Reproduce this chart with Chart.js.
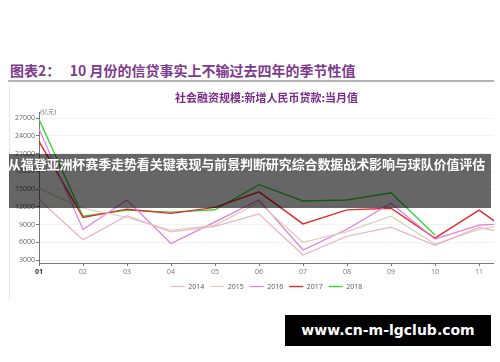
<!DOCTYPE html>
<html><head><meta charset="utf-8">
<script src="https://cdn.jsdelivr.net/npm/chart.js@4.4.1/dist/chart.umd.min.js"></script>
<style>
html,body{margin:0;padding:0;width:500px;height:362px;overflow:hidden;background:#fff;}
#title{position:absolute;left:10px;top:60px;font:bold 14px "Noto Sans CJK SC";color:#7d3b8c;white-space:pre;line-height:20px;}
#rule{position:absolute;left:8px;top:80px;width:486px;height:2px;background:#b4b4b4;}
#frame{position:absolute;left:9px;top:86px;width:1px;height:214px;background:#e8e8e8;}
#wrap{position:absolute;left:10px;top:88px;width:484px;height:212px;overflow:hidden;}
#band{position:absolute;left:9px;top:154px;width:482px;height:54px;background:rgba(0,0,0,0.6);}
#bandText{position:absolute;left:0;top:154px;width:493px;height:54px;line-height:54px;text-align:center;color:#fff;font:bold 13px "Noto Sans CJK SC";white-space:nowrap;letter-spacing:-0.1px;}
#wm{position:absolute;left:285px;top:315px;width:206px;height:31px;background:#000;color:#fff;font:bold 14px "DejaVu Sans";text-align:center;line-height:31px;}
</style>
</head><body>
<div id="title">图表2：   10 月份的信贷事实上不输过去四年的季节性值</div>
<div id="rule"></div>
<div id="frame"></div>
<div id="wrap"><canvas id="c" width="542" height="212"></canvas></div>
<div id="band"></div>
<div id="bandText">从福登亚洲杯赛季走势看关键表现与前景判断研究综合数据战术影响与球队价值评估</div>
<div id="wm">www.cn-m-lgclub.com</div>
<script>
const months = ['01','02','03','04','05','06','07','08','09','10','11','12'];
const yTicks = [3000,6000,9000,12000,15000,18000,21000,24000,27000];
const s2014 = [13200, 6445, 10500, 7747, 8708, 10800, 3852, 7025, 8572, 5483, 8527, 6970];
const s2015 = [15080, 11770, 10200, 8020, 8900, 12700, 6000, 7800, 10400, 5700, 8180, 9500];
const s2016 = [25180, 8180, 13150, 5800, 9450, 13150, 4700, 8200, 12600, 6530, 8900, 9300];
const s2017 = [23080, 10200, 11600, 10900, 11900, 14530, 9120, 11490, 11770, 6700, 11440, 6200];
const s2018 = [26800, 10400, 11440, 11100, 11500, 15740, 12980, 13150, 14370, 7250, null, null];

function ds(label, data, color, w){
  return {label, data, borderColor: color, backgroundColor: color, borderWidth: w,
          pointRadius: 0, tension: 0, fill: false, spanGaps: false};
}
const unitPlugin = {
  id: 'unit',
  afterDraw(chart){
    const {ctx, chartArea} = chart;
    ctx.save();
    ctx.font = '6px "DejaVu Sans"';
    ctx.fillStyle = '#666';
    ctx.textBaseline = 'bottom';
    ctx.fillText('(亿元)', chartArea.left + 1, chartArea.top + 3);
    ctx.restore();
  }
};
new Chart(document.getElementById('c'), {
  type: 'line',
  data: {
    labels: months,
    datasets: [
      ds('2014', s2014, '#ebb0c2', 1.2),
      ds('2015', s2015, '#dccfbb', 1.2),
      ds('2016', s2016, '#e57ad9', 1.2),
      ds('2017', s2017, '#e32a2a', 1.4),
      ds('2018', s2018, '#35d835', 1.4)
    ]
  },
  options: {
    responsive: false,
    animation: false,
    layout: {padding: {left: 0, right: 29, top: 0, bottom: 0}},
    plugins: {
      title: {display: true, text: '社会融资规模:新增人民币贷款:当月值', color: '#7a2a88',
              font: {family: 'Noto Sans CJK SC', size: 11, weight: 'bold'}, padding: {top: 3, bottom: 8}},
      legend: {position: 'bottom',
               labels: {usePointStyle: true, pointStyle: 'line', pointStyleWidth: 14, boxHeight: 7,
                        font: {size: 7, family: 'Open Sans'}, color: '#555', padding: 6}},
      tooltip: {enabled: false}
    },
    scales: {
      x: {
        offset: false,
        grid: {drawOnChartArea: false, tickLength: 3, tickColor: '#777'},
        border: {color: '#777'},
        ticks: {autoSkip: false, maxRotation: 0, padding: 2,
                color: (c) => c.index === 0 ? '#333' : '#777',
                font: (c) => c.index === 0 ? {size: 7, family: 'Open Sans', weight: 'bold'} : {size: 7, family: 'Open Sans'}},
        afterFit(s){ s.height = 14; }
      },
      y: {
        min: 2500, max: 28000,
        afterBuildTicks(s){ s.ticks = yTicks.map(v => ({value: v})); },
        grid: {color: '#f2f2f2', tickLength: 3, tickColor: '#777'},
        border: {color: '#777'},
        ticks: {font: {size: 7, family: 'Open Sans'}, color: '#666', padding: 1,
                callback: (v) => String(v)},
        afterFit(s){ s.width = 29; }
      }
    }
  },
  plugins: [unitPlugin]
});
</script>
</body></html>
